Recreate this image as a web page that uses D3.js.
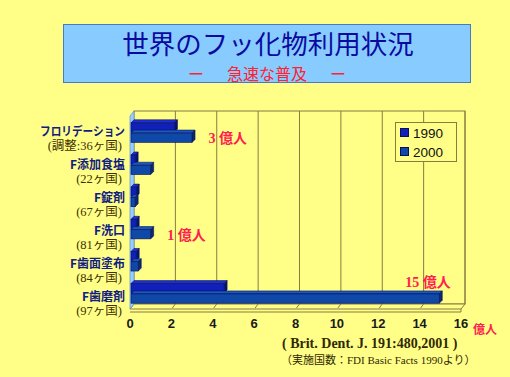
<!DOCTYPE html>
<html><head><meta charset="utf-8">
<script src="https://cdn.jsdelivr.net/npm/d3@7"></script>
<style>html,body{margin:0;padding:0;background:#FFFF88;}svg{display:block;}</style>
</head><body>
<script>
const categories = ["フロリデーション","F添加食塩","F錠剤","F洗口","F歯面塗布","F歯磨剤"];
const subLabels = ["(調整:36ヶ国)","(22ヶ国)","(67ヶ国)","(81ヶ国)","(84ヶ国)","(97ヶ国)"];
const series = ["1990","2000"];
const values1990 = [2.1, 0.2, 0.25, 0.25, 0.25, 4.5];
const values2000 = [2.95, 0.95, 0.2, 0.95, 0.35, 14.9];
const xTicks = [0,2,4,6,8,10,12,14,16];
const annotations = [{cat:"フロリデーション", v:3.8, text:"3 億人"},{cat:"F洗口", v:1.8, text:"1 億人"},{cat:"F歯磨剤", v:13.3, text:"15 億人"}];

(function(){
const W=510,H=377;
const svg=d3.select("body").append("svg").attr("width",W).attr("height",H);
svg.append("rect").attr("width",W).attr("height",H).attr("fill","#FFFF88");

// title box
svg.append("rect").attr("x",63.5).attr("y",24.5).attr("width",407).attr("height",58).attr("fill","#88CCFF").attr("stroke","#4A78C8").attr("stroke-width",1);
svg.append("text").attr("x",268).attr("y",54).attr("text-anchor","middle").attr("font-family","Noto Sans CJK JP").attr("font-size",26.5).attr("fill","#0A0AA0").text("世界のフッ化物利用状況");
const subT=svg.append("g").attr("font-family","Noto Sans CJK JP").attr("font-size",16).attr("fill","#FF2030").attr("text-anchor","middle");
subT.append("text").attr("x",196).attr("y",80).text("ー");
subT.append("text").attr("x",267).attr("y",80).text("急速な普及");
subT.append("text").attr("x",338).attr("y",80).text("ー");

// 3D geometry
const dx=4, dy=-5;
const xF=d3.scaleLinear().domain([0,16]).range([130,461]);
const y=d3.scaleBand().domain(categories).range([116,309]).paddingInner(0.36).paddingOuter(0.18);
const sub=d3.scaleBand().domain(series).range([0,y.bandwidth()]);
const yLab=d3.scalePoint().domain(categories).range([136,301]);
const grid="#8A7A40";
const yTop=111, yBot=309;

svg.append("rect").attr("x",xF(0)+dx).attr("y",yTop).attr("width",xF(16)-xF(0)).attr("height",yBot+dy-yTop).attr("fill","#FFFF88").attr("stroke",grid).attr("stroke-width",1);
svg.append("g").selectAll("line").data(xTicks.slice(1)).join("line")
  .attr("x1",d=>xF(d)+dx).attr("x2",d=>xF(d)+dx).attr("y1",yTop).attr("y2",yBot+dy)
  .attr("stroke",grid).attr("stroke-width",1);
svg.append("polygon").attr("points",[[xF(0),yBot],[xF(0)+dx,yBot+dy],[xF(16)+dx,yBot+dy],[xF(16),yBot]].join(" "))
  .attr("fill","#FFFF88").attr("stroke",grid).attr("stroke-width",1);
svg.append("line").attr("x1",xF(0)).attr("x2",xF(16)).attr("y1",yBot+3).attr("y2",yBot+3).attr("stroke",grid);
svg.append("line").attr("x1",xF(16)).attr("x2",xF(16)).attr("y1",yBot).attr("y2",yBot+3).attr("stroke",grid);
svg.append("g").selectAll("line").data(xTicks.slice(1,-1)).join("line")
  .attr("x1",d=>xF(d)+dx).attr("x2",d=>xF(d)+1).attr("y1",yBot+dy).attr("y2",yBot-1)
  .attr("stroke",grid);
svg.append("polygon").attr("points",[[xF(0),yTop-dy],[xF(0)+dx,yTop],[xF(0)+dx,yBot+dy],[xF(0),yBot]].join(" "))
  .attr("fill","#99CCFF").attr("stroke","#6699CC").attr("stroke-width",0.8);

const colors={"1990":{front:"#1020B8",top:"#2030D0",side:"#0A1470"},"2000":{front:"#1048A8",top:"#1A58BC",side:"#0A2A6A"}};
const bd=3;
const rows=[];
categories.forEach((c,i)=>{
  rows.push({cat:c,s:"1990",v:values1990[i]});
  rows.push({cat:c,s:"2000",v:values2000[i]});
});
const bars=svg.append("g").selectAll("g").data(rows).join("g");
bars.each(function(d){
  const g=d3.select(this);
  const x0=xF(0)+1, x1=xF(d.v)+1;
  const y0=y(d.cat)+sub(d.s)+1, h=sub.bandwidth()-1;
  const col=colors[d.s];
  g.append("polygon").attr("points",[[x0,y0],[x0+bd,y0-bd],[x1+bd,y0-bd],[x1,y0]].join(" ")).attr("fill",col.top).attr("stroke","#061060").attr("stroke-width",0.6);
  g.append("polygon").attr("points",[[x1,y0],[x1+bd,y0-bd],[x1+bd,y0+h-bd],[x1,y0+h]].join(" ")).attr("fill",col.side).attr("stroke","#061060").attr("stroke-width",0.6);
  g.append("rect").attr("x",x0).attr("y",y0).attr("width",x1-x0).attr("height",h).attr("fill",col.front).attr("stroke","#061060").attr("stroke-width",0.6);
});

const lab=svg.append("g");
categories.forEach((c,i)=>{
  const by=yLab(c);
  const t=lab.append("text").attr("x",125).attr("y",by).attr("text-anchor","end").attr("font-family","Noto Sans CJK JP").attr("font-weight","bold").attr("font-size",12).attr("fill","#102080").text(c);
  if(i===0) t.attr("textLength",85).attr("lengthAdjust","spacingAndGlyphs");
  lab.append("text").attr("x",122).attr("y",by+13.5).attr("text-anchor","end").attr("font-family","Liberation Serif, Noto Sans CJK JP").attr("font-size",12.5).attr("fill","#403000").text(subLabels[i]);
});

svg.append("g").selectAll("text").data(xTicks).join("text")
  .attr("x",d=>xF(d)).attr("y",328).attr("text-anchor","middle")
  .attr("font-family","Liberation Sans, Arial").attr("font-weight","bold").attr("font-size",13).attr("fill","#1A1A1A").text(d=>d);
svg.append("text").attr("x",473).attr("y",334).attr("font-family","Noto Sans CJK JP").attr("font-weight","bold").attr("font-size",12).attr("fill","#FF2050").text("億人");

svg.append("g").selectAll("text").data(annotations).join("text")
  .attr("x",d=>xF(d.v)).attr("y",d=>y(d.cat)+y.bandwidth()/2+(d.cat==="F歯磨剤"?-6:11)).attr("text-anchor","start")
  .attr("font-family","Liberation Serif, Noto Sans CJK JP").attr("font-weight","bold").attr("font-size",14).attr("fill","#FF2050").text(d=>d.text);

const lg=svg.append("g");
lg.append("rect").attr("x",395.5).attr("y",122.5).attr("width",61).attr("height",39).attr("fill","#FFFF88").attr("stroke",grid);
series.forEach((s,i)=>{
  lg.append("rect").attr("x",400.5).attr("y",128.5+i*19).attr("width",8).attr("height",8).attr("fill",colors[s].front).attr("stroke","#061060");
  lg.append("text").attr("x",413).attr("y",138+i*19).attr("font-family","Liberation Sans, Arial").attr("font-size",13.5).attr("fill","#111").text(s);
});

svg.append("text").attr("x",282).attr("y",348).attr("font-family","Liberation Serif").attr("font-weight","bold").attr("font-size",14).attr("fill","#302800").attr("xml:space","preserve").text("( Brit. Dent. J. 191:480,2001 )");
svg.append("text").attr("x",281).attr("y",364).attr("font-family","Liberation Serif, Noto Sans CJK JP").attr("font-size",11).attr("fill","#302800").text("（実施国数：FDI Basic Facts 1990より）");
})();
</script>
</body></html>
